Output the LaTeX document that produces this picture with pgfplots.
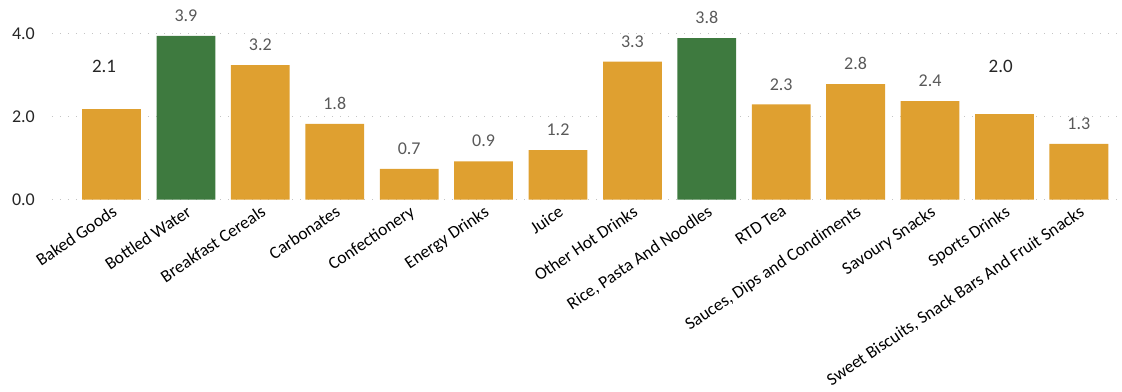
\documentclass[border=0pt]{standalone}
\usepackage{pgfplots}
\pgfplotsset{compat=1.18}
\usepackage{fontspec}
\setmainfont{Carlito}
\definecolor{barorange}{RGB}{223,160,48}
\definecolor{bargreen}{RGB}{62,122,63}
\definecolor{labgray}{RGB}{89,89,89}
\definecolor{txtdark}{RGB}{38,38,38}
\definecolor{gridgray}{RGB}{196,196,196}
\begin{document}
\begin{tikzpicture}
\begin{axis}[
  scale only axis,
  width=1070bp, height=199.2bp,
  xmin=-0.8, xmax=13.58,
  ymin=0, ymax=4.8,
  axis line style={draw=none},
  major tick length=0pt,
  ytick={0,2,4},
  /pgf/number format/assume math mode=true,
  y tick label style={/pgf/number format/fixed, /pgf/number format/fixed zerofill, /pgf/number format/precision=1},
  yticklabel style={font=\fontsize{18bp}{20bp}\selectfont, color=txtdark, inner sep=0pt, xshift=-17bp},
  ymajorgrids,
  grid style={color=gridgray, line width=1.2bp, dash pattern=on 1.2bp off 6.8bp},
  xtick={0,...,13},
  xticklabels={Baked Goods, Bottled Water, Breakfast Cereals, Carbonates, Confectionery, Energy Drinks, Juice, Other Hot Drinks, {Rice, Pasta And Noodles}, RTD Tea, {Sauces, Dips and Condiments}, Savoury Snacks, Sports Drinks, {Sweet Biscuits, Snack Bars And Fruit Snacks}},
  xticklabel style={font=\fontsize{17.5bp}{19bp}\selectfont, color=black, rotate=34, anchor=north east, inner sep=1bp, yshift=-3bp, xshift=-2bp},
  clip=false,
]
% orange bars with labels
\addplot[ybar, bar shift=0pt, bar width=0.79, fill=barorange, draw=none,
  nodes near coords, point meta=explicit symbolic,
  nodes near coords style={font=\fontsize{18bp}{20bp}\selectfont, color=labgray, anchor=south, inner sep=0pt, yshift=14bp}]
  table[x=x, y=y, meta=lab] {
x y lab
2 3.24 3.2
3 1.82 1.8
4 0.74 0.7
5 0.92 0.9
6 1.19 1.2
7 3.32 3.3
9 2.29 2.3
10 2.78 2.8
11 2.37 2.4
13 1.34 1.3
};
% orange bars with separate labels
\addplot[ybar, bar shift=0pt, bar width=0.79, fill=barorange, draw=none]
  table[x=x, y=y] {
x y
0 2.18
12 2.06
};
% green bars
\addplot[ybar, bar shift=0pt, bar width=0.79, fill=bargreen, draw=none,
  nodes near coords, point meta=explicit symbolic,
  nodes near coords style={font=\fontsize{18bp}{20bp}\selectfont, color=labgray, anchor=south, inner sep=0pt, yshift=14bp}]
  table[x=x, y=y, meta=lab] {
x y lab
1 3.94 3.9
8 3.89 3.8
};
\node[font=\fontsize{19bp}{21bp}\selectfont, color=txtdark, anchor=base, inner sep=0pt] at (axis cs:-0.1,3.05) {2.1};
\node[font=\fontsize{19bp}{21bp}\selectfont, color=txtdark, anchor=base, inner sep=0pt] at (axis cs:11.95,3.05) {2.0};
\end{axis}
\pgfresetboundingbox
\path[use as bounding box] (-52bp,-192.5bp) rectangle (1070bp,199.5bp);
\end{tikzpicture}
\end{document}
